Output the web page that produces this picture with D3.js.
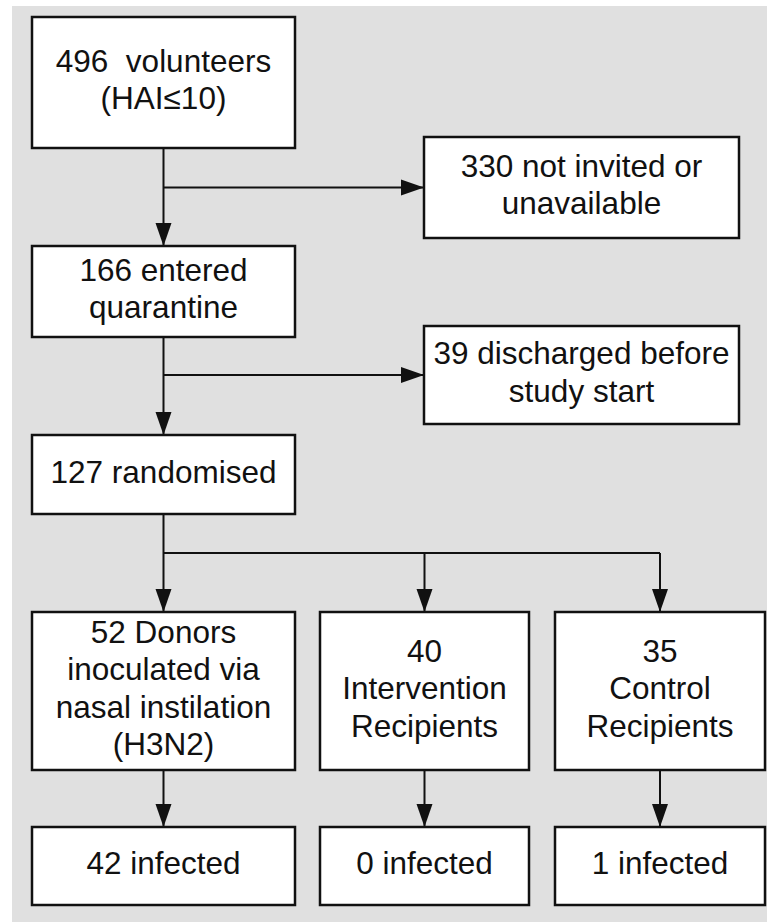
<!DOCTYPE html>
<html>
<head>
<meta charset="utf-8">
<script src="https://cdn.jsdelivr.net/npm/d3@7"></script>
<style>
	html, body { margin: 0; padding: 0; background: #ffffff; }
	svg { display: block; }
</style>
</head>
<body>
<div id="chart"></div>
<script>
// flow stages, top to bottom
var stageLabels = [
	[ "496  volunteers", "(HAI\u226410)" ],
	[ "166 entered", "quarantine" ],
	[ "127 randomised" ]
];
var exclusionLabels = [
	[ "330 not invited or", "unavailable" ],
	[ "39 discharged before", "study start" ]
];
var armLabels = [
	[ "52 Donors", "inoculated via", "nasal instilation", "(H3N2)" ],
	[ "40", "Intervention", "Recipients" ],
	[ "35", "Control", "Recipients" ]
];
var outcomeLabels = [
	[ "42 infected" ],
	[ "0 infected" ],
	[ "1 infected" ]
];
var armNames = [ "donors", "intervention", "control" ];

( function () {
	var width = 767,
		height = 922,
		fontSize = 31.5,
		lineGap = 37.5,
		ink = "#111111";

	// layout scales: column -> [x0, x1], row -> [y0, y1]
	var colX = d3.scaleOrdinal()
		.domain( [ "main", "side", "donors", "intervention", "control" ] )
		.range( [ [ 32, 295 ], [ 424, 739 ], [ 32, 295 ], [ 320, 529 ], [ 555, 765 ] ] );
	var stageY = d3.scaleOrdinal()
		.domain( [ 0, 1, 2 ] )
		.range( [ [ 17, 148 ], [ 246, 337 ], [ 435, 514 ] ] );
	var exclusionY = d3.scaleOrdinal()
		.domain( [ 0, 1 ] )
		.range( [ [ 137, 238 ], [ 326, 424 ] ] );
	var armY = [ 612, 770 ],
		outcomeY = [ 827, 905 ],
		splitY = 553;

	var boxes = [];
	stageLabels.forEach( function ( lines, i ) {
		boxes.push( { x: colX( "main" ), y: stageY( i ), lines: lines } );
	});
	exclusionLabels.forEach( function ( lines, i ) {
		boxes.push( { x: colX( "side" ), y: exclusionY( i ), lines: lines } );
	});
	armLabels.forEach( function ( lines, i ) {
		boxes.push( { x: colX( armNames[i] ), y: armY, lines: lines } );
	});
	outcomeLabels.forEach( function ( lines, i ) {
		boxes.push( { x: colX( armNames[i] ), y: outcomeY, lines: lines } );
	});

	var mid = function ( r ) { return ( r[0] + r[1] ) / 2; };
	var cx = mid( colX( "main" ) );

	// connectors: plain lines and arrows
	var lines = [], arrows = [];
	stageLabels.forEach( function ( d, i ) {
		if ( i === stageLabels.length - 1 ) return;
		var from = stageY( i )[1], to = stageY( i + 1 )[0];
		arrows.push( { x1: cx, y1: from, x2: cx, y2: to } );
		var by = mid( exclusionY( i ) );
		arrows.push( { x1: cx, y1: by, x2: colX( "side" )[0], y2: by } );
	});
	lines.push( { x1: cx, y1: stageY( 2 )[1], x2: cx, y2: splitY } );
	lines.push( { x1: cx, y1: splitY, x2: mid( colX( armNames[2] ) ), y2: splitY } );
	armNames.forEach( function ( a ) {
		var ax = mid( colX( a ) );
		arrows.push( { x1: ax, y1: splitY, x2: ax, y2: armY[0] } );
		arrows.push( { x1: ax, y1: armY[1], x2: ax, y2: outcomeY[0] } );
	});

	var svg = d3.select( "#chart" ).append( "svg" )
		.attr( "width", width )
		.attr( "height", height );

	svg.append( "rect" )
		.attr( "x", 12 ).attr( "y", 6 )
		.attr( "width", width - 12 ).attr( "height", height - 6 )
		.attr( "fill", "#e0e0e0" );

	svg.append( "g" ).selectAll( "line" )
		.data( lines.concat( arrows ) )
		.join( "line" )
		.attr( "x1", d => d.x1 ).attr( "y1", d => d.y1 )
		.attr( "x2", d => d.x2 ).attr( "y2", d => d.y2 )
		.attr( "stroke", ink )
		.attr( "stroke-width", 2 );

	var headLen = 23, headHalf = 8;
	svg.append( "g" ).selectAll( "path" )
		.data( arrows )
		.join( "path" )
		.attr( "d", function ( d ) {
			var ang = Math.atan2( d.y2 - d.y1, d.x2 - d.x1 ),
				bx = d.x2 - headLen * Math.cos( ang ),
				by = d.y2 - headLen * Math.sin( ang ),
				px = -Math.sin( ang ) * headHalf,
				py = Math.cos( ang ) * headHalf;
			return "M" + d.x2 + "," + d.y2 + "L" + ( bx + px ) + "," + ( by + py ) +
				"L" + ( bx - px ) + "," + ( by - py ) + "Z";
		})
		.attr( "fill", ink );

	var box = svg.append( "g" ).selectAll( "g" )
		.data( boxes )
		.join( "g" );

	box.append( "rect" )
		.attr( "x", d => d.x[0] ).attr( "y", d => d.y[0] )
		.attr( "width", d => d.x[1] - d.x[0] )
		.attr( "height", d => d.y[1] - d.y[0] )
		.attr( "fill", "#ffffff" )
		.attr( "stroke", ink )
		.attr( "stroke-width", 2.5 );

	box.append( "text" )
		.attr( "text-anchor", "middle" )
		.attr( "font-family", "'Liberation Sans', Arial, sans-serif" )
		.attr( "font-size", fontSize + "px" )
		.attr( "fill", ink )
		.style( "white-space", "pre" )
		.each( function ( d ) {
			var t = d3.select( this ),
				x = mid( d.x ),
				y0 = mid( d.y ) - ( d.lines.length - 1 ) * lineGap / 2;
			d.lines.forEach( function ( s, i ) {
				t.append( "tspan" )
					.attr( "x", x )
					.attr( "y", y0 + i * lineGap )
					.attr( "dy", "0.26em" )
					.text( s );
			});
		});
})();
</script>
</body>
</html>
